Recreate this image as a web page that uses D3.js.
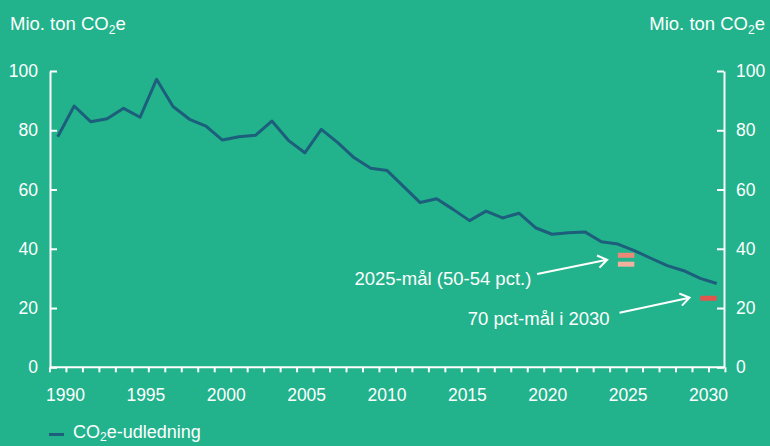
<!DOCTYPE html>
<html>
<head>
<meta charset="utf-8">
<script src="https://cdn.jsdelivr.net/npm/d3@7"></script>
<style>
  body { margin: 0; background: #22b38c; }
  text { font-family: "Liberation Sans", Arial, sans-serif; fill: #fff; }
</style>
</head>
<body>
<div id="viz-container"></div>
<script>
// data
let years = d3.range(1990, 2031);
let emissions = [77.8, 88.2, 82.9, 83.9, 87.4, 84.4, 97.2, 88.0, 83.7, 81.4,
                 76.7, 77.8, 78.3, 83.1, 76.6, 72.4, 80.3, 75.8, 70.7, 67.2,
                 66.4, 61.0, 55.6, 56.9, 53.3, 49.5, 52.7, 50.4, 52.0, 47.1,
                 44.9, 45.4, 45.7, 42.4, 41.6, 39.4, 36.8, 34.3, 32.6, 30.0, 28.3];
let yTicks = [0, 20, 40, 60, 80, 100];
let xLabels = [1990, 1995, 2000, 2005, 2010, 2015, 2020, 2025, 2030];
// target bars: [year, value, colour]
let targets = [
  [2025, 37.8, "#ec8877"],
  [2025, 34.8, "#f2b09e"],
  [2030, 23.3, "#e0554c"]
];
let notes = [
  { text: "2025-mål (50-54 pct.)", x: 2018.75, y: 27.7, from: [2019.1, 31.5], to: [2023.35, 36.3] },
  { text: "70 pct-mål i 2030", x: 2023.5, y: 14.2, from: [2024.1, 18.4], to: [2028.35, 23.5] }
];

let viz = d3.select("#viz-container")
  .append("svg")
    .attr("width", 770)
    .attr("height", 446)
;

viz.append("rect").attr("width", 770).attr("height", 446).attr("fill", "#22b38c");

let x = d3.scaleLinear().domain([1990, 2030]).range([57.7, 716.7]);
let xLab = d3.scaleLinear().domain([1990, 2030]).range([65, 708]);
let y = d3.scaleLinear().domain([0, 100]).range([367.3, 71]);

// axes
let left = viz.append("g")
  .attr("transform", "translate(50,0)")
  .call(d3.axisLeft(y).tickValues(yTicks).tickSize(-7).tickSizeOuter(0).tickPadding(12));
let right = viz.append("g")
  .attr("transform", "translate(724,0)")
  .call(d3.axisRight(y).tickValues(yTicks).tickSize(-7).tickSizeOuter(0).tickPadding(12));
let edges = d3.range(1989.5, 2031, 1);
let bottom = viz.append("g")
  .attr("transform", "translate(0,367.3)")
  .call(d3.axisBottom(x).tickValues(edges).tickFormat("").tickSize(5).tickSizeOuter(0));
bottom.select(".domain").attr("d", "M50,0H724");
let labs = viz.append("g")
  .attr("transform", "translate(0,386)")
  .call(d3.axisBottom(xLab).tickValues(xLabels).tickFormat(d3.format("d")).tickSize(0));
labs.select(".domain").remove();

[left, right, bottom].forEach(function(g) {
  g.selectAll(".domain").attr("stroke", "#fff").attr("stroke-width", 2);
  g.selectAll(".tick line").attr("stroke", "#fff").attr("stroke-width", 2);
});
viz.selectAll(".tick text").attr("fill", "#fff").style("font-size", "17.5px")
  .style("font-family", "'Liberation Sans', Arial, sans-serif");

// emissions line
let line = d3.line().x(function(d, i) { return x(years[i]); }).y(function(d) { return y(d); });
viz.append("path")
  .datum(emissions)
  .attr("d", line)
  .attr("fill", "none")
  .attr("stroke", "#1d5e7c")
  .attr("stroke-width", 3)
  .attr("stroke-linejoin", "round");

// target bars
viz.selectAll(".target").data(targets).enter().append("rect")
  .attr("x", function(d) { return x(d[0] - 1); })
  .attr("width", function(d) { return x(d[0]) - x(d[0] - 1); })
  .attr("y", function(d) { return y(d[1]) - 2.5; })
  .attr("height", 5)
  .attr("fill", function(d) { return d[2]; });

// annotations
viz.selectAll(".note").data(notes).enter().append("text")
  .attr("x", function(d) { return x(d.x); })
  .attr("y", function(d) { return y(d.y); })
  .attr("text-anchor", "end")
  .style("font-size", "18.5px")
  .text(function(d) { return d.text; });

notes.forEach(function(d) {
  let x1 = x(d.from[0]), y1 = y(d.from[1]), x2 = x(d.to[0]), y2 = y(d.to[1]);
  let a = Math.atan2(y2 - y1, x2 - x1);
  let h = 11, s = 0.6;
  viz.append("path")
    .attr("d", "M" + x1 + "," + y1 + "L" + x2 + "," + y2 +
      "M" + (x2 - h * Math.cos(a - s)) + "," + (y2 - h * Math.sin(a - s)) +
      "L" + x2 + "," + y2 +
      "L" + (x2 - h * Math.cos(a + s)) + "," + (y2 - h * Math.sin(a + s)))
    .attr("fill", "none")
    .attr("stroke", "#fff")
    .attr("stroke-width", 2);
});

// unit titles
function unit(xPos, anchor) {
  let t = viz.append("text")
    .attr("x", xPos).attr("y", 30)
    .attr("text-anchor", anchor)
    .style("font-size", "18.5px");
  t.append("tspan").text("Mio. ton CO");
  t.append("tspan").attr("dy", 4).style("font-size", "12px").text("2");
  t.append("tspan").attr("dy", -4).text("e");
}
unit(10, "start");
unit(765, "end");

// legend (slightly raised so the descenders stay inside)
viz.append("line")
  .attr("x1", 49).attr("x2", 64).attr("y1", 434.5).attr("y2", 434.5)
  .attr("stroke", "#1d5e7c").attr("stroke-width", 3);
let lg = viz.append("text").attr("x", 73).attr("y", 438).style("font-size", "18px");
lg.append("tspan").text("CO");
lg.append("tspan").attr("dy", 3).style("font-size", "12px").text("2");
lg.append("tspan").attr("dy", -3).text("e-udledning");
</script>
</body>
</html>
